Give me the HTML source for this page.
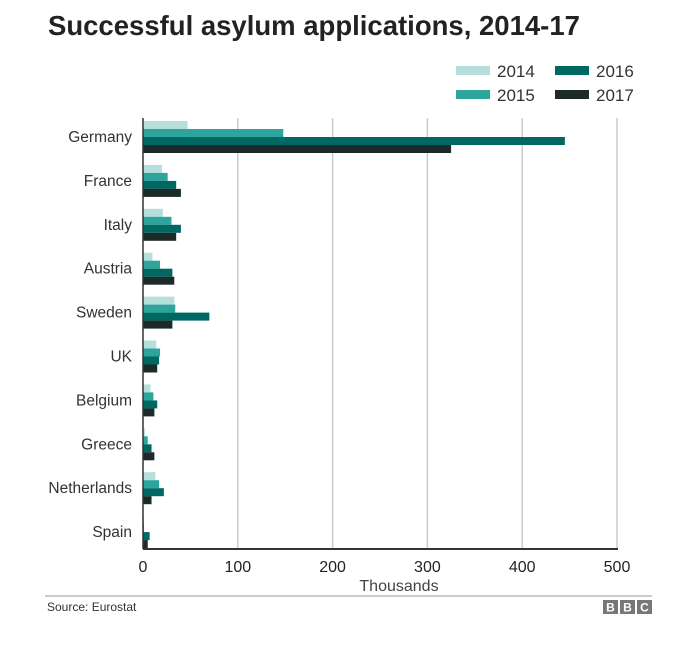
<!DOCTYPE html>
<html><head><meta charset="utf-8"><style>
body{margin:0;background:#fff;font-family:"Liberation Sans",Arial,sans-serif;}
</style></head><body>
<svg width="687" height="640" xmlns="http://www.w3.org/2000/svg" font-family="Liberation Sans, Arial, sans-serif">
<text x="48" y="35" font-size="27.5" font-weight="bold" fill="#222">Successful asylum applications, 2014-17</text>
<g id="legend"></g>
<g id="grid"></g>
<g id="bars"></g>
<g id="labels"></g>
<g id="xticks"></g>
<line x1="143" y1="118" x2="143" y2="549" stroke="#333" stroke-width="1.5"/>
<line x1="143" y1="549" x2="618" y2="549" stroke="#333" stroke-width="2"/>
<text x="399" y="591" font-size="16" fill="#444" text-anchor="middle">Thousands</text>
<line x1="45" y1="596" x2="652" y2="596" stroke="#999" stroke-width="1"/>
<text x="47" y="611" font-size="12" fill="#333">Source: Eurostat</text>
<g>
<rect x="603" y="600" width="15" height="14" fill="#777"/><rect x="620" y="600" width="15" height="14" fill="#777"/><rect x="637" y="600" width="15" height="14" fill="#777"/>
<text x="610.5" y="611.5" font-size="12" font-weight="bold" fill="#fff" text-anchor="middle">B</text>
<text x="627.5" y="611.5" font-size="12" font-weight="bold" fill="#fff" text-anchor="middle">B</text>
<text x="644.5" y="611.5" font-size="12" font-weight="bold" fill="#fff" text-anchor="middle">C</text>
</g>
</svg>
<script>
const categories=["Germany","France","Italy","Austria","Sweden","UK","Belgium","Greece","Netherlands","Spain"];
const years=["2014","2015","2016","2017"];
const v2014=[47,20,21,10,33,14,8,2,13,1];
const v2015=[148,26,30,18,34,18,11,5,17,1];
const v2016=[445,35,40,31,70,17,15,9,22,7];
const v2017=[325,40,35,33,31,15,12,12,9,5];
const xTicks=[0,100,200,300,400,500];
const colors=["#b6dedd","#2ea59c","#006862","#1c2a2a"];
const NS="http://www.w3.org/2000/svg";
const x=v=>143+v*0.948;
const yCenter=i=>137+i*43.9;
function mk(t,a,p){const e=document.createElementNS(NS,t);for(const k in a)e.setAttribute(k,a[k]);p.appendChild(e);return e;}
const grid=document.getElementById('grid'),xt=document.getElementById('xticks');
xTicks.forEach(t=>{
 if(t>0){const l=mk('line',{x1:x(t),x2:x(t),y1:118,y2:549,stroke:'#ccc','stroke-width':1.5},grid);
 
 }
 const tx=mk('text',{x:x(t),y:572,'font-size':16,fill:'#222','text-anchor':'middle'},xt);
 tx.textContent=t;
 
 
});
const series=[v2014,v2015,v2016,v2017];
const bars=document.getElementById('bars'),lab=document.getElementById('labels');
categories.forEach((c,i)=>{
 const yc=yCenter(i);
 series.forEach((s,j)=>{
  const r=mk('rect',{x:143,y:yc-16+j*8,width:Math.max(0,x(s[i])-143),height:8,fill:colors[j]},bars);
  
  
 });
 const t=mk('text',{x:132,y:yc+5,'font-size':15.5,fill:'#333','text-anchor':'end'},lab);
 t.textContent=c;
 
 
});
const lg=document.getElementById('legend');
const pos=[[456,72],[456,96],[555,72],[555,96]];
years.forEach((yr,j)=>{
 const g=mk('g',{},lg);
 
 
 mk('rect',{x:pos[j][0],y:pos[j][1]-6,width:34,height:9,fill:colors[j]},g);
 const t=mk('text',{x:pos[j][0]+41,y:pos[j][1]+5,'font-size':17,fill:'#333'},g);
 t.textContent=yr;
});
</script>
</body></html>
